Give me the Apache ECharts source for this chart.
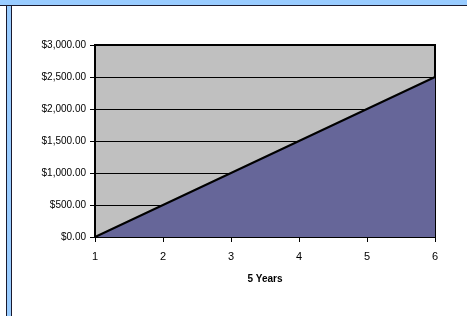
<!DOCTYPE html>
<html><head><meta charset="utf-8">
<script src="https://cdn.jsdelivr.net/npm/echarts@6/dist/echarts.min.js"></script>
<style>html,body{margin:0;padding:0;background:#fff}#c{width:467px;height:316px}</style>
</head><body><div id="c"></div>
<script>
var years = [1, 2, 3, 4, 5, 6];
var values = [0, 500, 1000, 1500, 2000, 2500];
var xName = '5 Years';
var chart = echarts.init(document.getElementById('c'), null, {renderer: 'canvas'});
var font = 'Liberation Sans, Arial, sans-serif';
chart.setOption({
  animation: false,
  graphic: [
    {type: 'rect', shape: {x: 0, y: 0, width: 467, height: 6}, style: {fill: '#99ccff'}, z: 10},
    {type: 'line', shape: {x1: 0, y1: 5.5, x2: 467, y2: 5.5}, style: {stroke: '#1a1a2e', lineWidth: 1}, z: 11},
    {type: 'rect', shape: {x: 6, y: 0, width: 6, height: 316}, style: {fill: '#99ccff'}, z: 10},
    {type: 'line', shape: {x1: 6.5, y1: 6, x2: 6.5, y2: 316}, style: {stroke: '#1a1a2e', lineWidth: 1}, z: 11},
    {type: 'line', shape: {x1: 11.5, y1: 6, x2: 11.5, y2: 316}, style: {stroke: '#1a1a2e', lineWidth: 1}, z: 11}
  ],
  grid: {left: 95, right: 32, top: 45, bottom: 79, show: true, backgroundColor: '#c0c0c0', borderColor: '#000', borderWidth: 2},
  xAxis: {
    type: 'value', min: 1, max: 6, interval: 1,
    name: xName, nameLocation: 'middle', nameGap: 37,
    nameTextStyle: {fontFamily: font, fontSize: 10, fontWeight: 'bold', color: '#000'},
    axisLine: {show: true, lineStyle: {color: '#000', width: 2}},
    axisTick: {show: true, length: 5, lineStyle: {color: '#000'}},
    axisLabel: {fontFamily: font, fontSize: 11, color: '#000', margin: 14},
    splitLine: {show: false}
  },
  yAxis: {
    type: 'value', min: 0, max: 3000, interval: 500,
    axisLine: {show: true, lineStyle: {color: '#000', width: 2}},
    axisTick: {show: true, length: 5, lineStyle: {color: '#000'}},
    axisLabel: {fontFamily: font, fontSize: 10, color: '#000', margin: 9,
      formatter: function (v) { return '$' + v.toLocaleString('en-US', {minimumFractionDigits: 2, maximumFractionDigits: 2}); }},
    splitLine: {show: true, lineStyle: {color: '#000', width: 1}}
  },
  series: [{
    type: 'line',
    data: years.map(function (y, i) { return [y, values[i]]; }),
    symbol: 'none',
    lineStyle: {color: '#000', width: 2},
    areaStyle: {color: '#666699', opacity: 1}
  }]
});
</script></body></html>
